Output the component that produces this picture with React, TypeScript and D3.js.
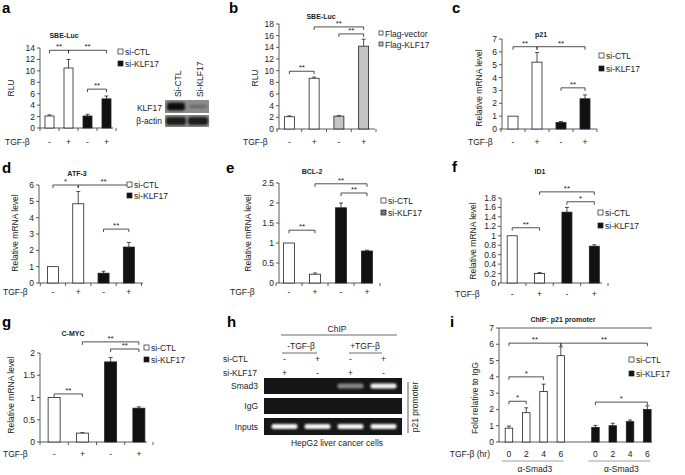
import React from "react";
import * as d3 from "d3";

const FONT = "'Liberation Sans', Arial, Helvetica, sans-serif";
const AX = "#333";

// ---------- shared categories ----------
const conditions = ["CTL-", "CTL+", "KLF-", "KLF+"];
const conditionSeries = [0, 0, 1, 1];
const tgfSigns = ["-", "+", "-", "+"];
const knockdownLegend = ["si-CTL", "si-KLF17"];
const flagLegend = ["Flag-vector", "Flag-KLF17"];

// ---------- a: SBE-Luc (knockdown) ----------
const aValues = [2.1, 10.5, 2.1, 5.1];
const aErrors = [0.2, 1.5, 0.3, 0.5];
const aTicks = [0, 2, 4, 6, 8, 10, 12, 14];
const aBrackets: [number, number, number, string][] = [[0, 1, 13.6, "**"], [1, 3, 13.6, "**"], [2, 3, 6.8, "**"]];
const blotLanes = ["Si-CTL", "Si-KLF17"];
const klf17Band = [1, 0.3];
const actinBand = [1, 1];

// ---------- b: SBE-Luc (overexpression) ----------
const bValues = [2.1, 8.7, 2.2, 14.2];
const bErrors = [0.15, 0.2, 0.1, 1.2];
const bTicks = [0, 2, 4, 6, 8, 10, 12, 14, 16, 18];
const bBrackets: [number, number, number, string][] = [[0, 1, 9.9, "**"], [1, 3, 17.5, "**"], [2, 3, 16.3, "**"]];

// ---------- c: p21 ----------
const cValues = [1.0, 5.2, 0.5, 2.35];
const cErrors = [0, 0.75, 0.08, 0.3];
const cTicks = [0, 1, 2, 3, 4, 5, 6, 7];
const cBrackets: [number, number, number, string][] = [[0, 1, 6.4, "**"], [1, 3, 6.4, "**"], [2, 3, 3.2, "**"]];

// ---------- d: ATF-3 ----------
const dValues = [1.0, 4.85, 0.6, 2.2];
const dErrors = [0, 0.75, 0.12, 0.28];
const dTicks = [0, 1, 2, 3, 4, 5, 6];
const dBrackets: [number, number, number, string][] = [[0, 1, 6.0, "*"], [1, 3, 6.0, "**"], [2, 3, 3.3, "**"]];

// ---------- e: BCL-2 ----------
const eValues = [1.0, 0.22, 1.88, 0.8];
const eErrors = [0, 0.03, 0.12, 0.02];
const eTicks = [0, 0.5, 1, 1.5, 2, 2.5];
const eBrackets: [number, number, number, string][] = [[0, 1, 1.32, "**"], [1, 3, 2.48, "**"], [2, 3, 2.25, "**"]];

// ---------- f: ID1 ----------
const fValues = [1.0, 0.2, 1.5, 0.78];
const fErrors = [0, 0.02, 0.1, 0.03];
const fTicks = [0, 0.2, 0.4, 0.6, 0.8, 1, 1.2, 1.4, 1.6, 1.8];
const fBrackets: [number, number, number, string][] = [[0, 1, 1.17, "**"], [1, 3, 1.93, "**"], [2, 3, 1.72, "*"]];

// ---------- g: C-MYC ----------
const gValues = [1.0, 0.2, 1.8, 0.76];
const gErrors = [0, 0.01, 0.1, 0.03];
const gTicks = [0, 0.5, 1, 1.5, 2];
const gBrackets: [number, number, number, string][] = [[0, 1, 1.08, "**"], [1, 3, 2.25, "**"], [2, 3, 2.09, "**"]];

// ---------- h: ChIP gel ----------
const chipLanes = ["1", "2", "3", "4"];
const chipCtl = ["-", "+", "-", "+"];
const chipKlf = ["+", "-", "+", "-"];
const smad3Band = [0, 0, 0.5, 1];
const iggBand = [0, 0, 0, 0];
const inputBand = [1, 1, 1, 1];
const gelRows = ["Smad3", "IgG", "Inputs"];

// ---------- i: ChIP p21 promoter ----------
const iSlots = ["CTL 0", "CTL 2", "CTL 4", "CTL 6", "gap", "KLF 0", "KLF 2", "KLF 4", "KLF 6"];
const iBarKeys = ["CTL 0", "CTL 2", "CTL 4", "CTL 6", "KLF 0", "KLF 2", "KLF 4", "KLF 6"];
const iSeries = [0, 0, 0, 0, 1, 1, 1, 1];
const iHours = ["0", "2", "4", "6", "0", "2", "4", "6"];
const iValues = [0.85, 1.8, 3.1, 5.3, 0.9, 1.0, 1.25, 2.0];
const iErrors = [0.13, 0.3, 0.45, 0.55, 0.12, 0.15, 0.1, 0.22];
const iTicks = [0, 1, 2, 3, 4, 5, 6, 7];
const iBrackets: [number, number, number, string][] = [[0, 1, 2.5, "*"], [0, 2, 4.0, "*"], [0, 3, 6.07, "**"], [3, 7, 6.07, "**"], [4, 7, 2.45, "*"]];

const WHITE = "#ffffff";
const BLACK = "#111111";
const GRAY = "#c4c4c4";

function BarPanel({ p }: { p: any }) {
  const y = d3.scaleLinear().domain([0, p.yMax]).range([p.bottom, p.top]);
  const x = d3.scaleBand<string>().domain(p.keys).range(p.band).padding(0);
  const cx = (i: number) => (x(p.barKeys[i]) as number) + x.bandwidth() / 2;
  const bounds: number[] = p.keys.map((k: string) => x(k) as number).concat([p.band[1]]);
  const fmt = p.tickFmt || ((t: number) => String(t));
  const sq = p.legendSize || 5;
  return (
    <g fontFamily={FONT} fill="#222">
      <text x={p.letterX} y={p.letterY} fontSize={15} fontWeight="bold" fill="#000">{p.letter}</text>
      <text x={p.titleX} y={p.titleY} textAnchor="middle" fontSize={7} fontWeight="bold">{p.title}</text>
      {p.topLine && (
        <line x1={p.axisX} x2={p.xEnd} y1={y(p.yMax)} y2={y(p.yMax)} stroke={AX} strokeWidth={0.8} />
      )}
      <line x1={p.axisX} x2={p.axisX} y1={y(0)} y2={y(p.yMax)} stroke={AX} strokeWidth={0.8} />
      {p.ticks.map((t: number) => (
        <g key={"t" + t}>
          <line x1={p.axisX - 3} x2={p.axisX} y1={y(t)} y2={y(t)} stroke={AX} strokeWidth={0.8} />
          <text x={p.axisX - 5} y={y(t) + 3} textAnchor="end" fontSize={8.5}>{fmt(t)}</text>
        </g>
      ))}
      <line x1={p.axisX} x2={p.xEnd} y1={y(0)} y2={y(0)} stroke={AX} strokeWidth={0.8} />
      {p.catTicks && bounds.map((b, i) => (
        <line key={"c" + i} x1={b} x2={b} y1={y(0)} y2={y(0) + 3} stroke={AX} strokeWidth={0.8} />
      ))}
      {p.values.map((v: number, i: number) => (
        <rect key={"b" + i} x={cx(i) - p.barW / 2} y={y(v)} width={p.barW} height={y(0) - y(v)}
          fill={p.fills[p.series[i]]} stroke="#222" strokeWidth={0.8} />
      ))}
      {p.values.map((v: number, i: number) => p.errors[i] > 0 ? (
        <g key={"e" + i} stroke="#222" strokeWidth={0.8}>
          <line x1={cx(i)} x2={cx(i)} y1={y(v)} y2={y(v + p.errors[i])} />
          <line x1={cx(i) - 2} x2={cx(i) + 2} y1={y(v + p.errors[i])} y2={y(v + p.errors[i])} />
        </g>
      ) : null)}
      {p.brackets.map(([a, b, v, l]: [number, number, number, string], i: number) => {
        const yy = y(v);
        return (
          <g key={"k" + i}>
            <path d={`M${cx(a)},${yy + 3}V${yy}H${cx(b)}V${yy + 3}`} fill="none" stroke="#222" strokeWidth={0.8} />
            <text x={(cx(a) + cx(b)) / 2} y={yy - 1} textAnchor="middle" fontSize={8}>{l}</text>
          </g>
        );
      })}
      <text x={p.xTitleX} y={p.labelY} textAnchor={p.xTitleAnchor || "start"} fontSize={8.5}>{p.xTitle}</text>
      {p.xLabels.map((s: string, i: number) => (
        <text key={"x" + i} x={cx(i)} y={p.labelY} textAnchor="middle" fontSize={8.5}>{s}</text>
      ))}
      <text transform={`translate(${p.yLabelX},${p.yLabelY}) rotate(-90)`} textAnchor="middle" fontSize={8.5}>{p.yLabel}</text>
      {p.legend.map((l: string, i: number) => (
        <g key={"l" + i}>
          <rect x={p.legendX} y={p.legendY + i * p.legendDy} width={sq} height={sq}
            fill={p.legendFills[i]} stroke="#222" strokeWidth={0.7} />
          <text x={p.legendX + sq + 2} y={p.legendY + i * p.legendDy + 6} fontSize={8.5}>{l}</text>
        </g>
      ))}
      {p.extra ? p.extra(cx, y) : null}
    </g>
  );
}

const base = {
  keys: conditions,
  barKeys: conditions,
  series: conditionSeries,
  xLabels: tgfSigns,
  xTitle: "TGF-β",
  catTicks: true,
  legend: knockdownLegend,
  fills: [WHITE, BLACK],
  legendFills: [WHITE, BLACK],
  yLabel: "Relative mRNA level",
};

const panelA = {
  ...base, letter: "a", letterX: 2, letterY: 13, title: "SBE-Luc", titleX: 64, titleY: 38,
  axisX: 40, band: [40, 116], xEnd: 113, top: 48, bottom: 128, yMax: 14, ticks: aTicks,
  values: aValues, errors: aErrors, barW: 9, brackets: aBrackets,
  legendX: 118, legendY: 49, legendDy: 12, yLabel: "RLU", yLabelX: 14, yLabelY: 88,
  labelY: 145, xTitleX: 5,
};
const panelB = {
  ...base, letter: "b", letterX: 229, letterY: 13, title: "SBE-Luc", titleX: 321, titleY: 19,
  axisX: 279, band: [277, 376], xEnd: 375, top: 24, bottom: 129, yMax: 18, ticks: bTicks,
  values: bValues, errors: bErrors, barW: 10, brackets: bBrackets,
  legend: flagLegend, fills: [WHITE, GRAY], legendFills: [WHITE, GRAY], legendSize: 4,
  legendX: 379, legendY: 31, legendDy: 11, yLabel: "RLU", yLabelX: 258, yLabelY: 78,
  labelY: 145, xTitleX: 243,
};
const panelC = {
  ...base, letter: "c", letterX: 452, letterY: 13, title: "p21", titleX: 541, titleY: 37,
  axisX: 502, band: [501, 597], xEnd: 597, top: 39, bottom: 129, yMax: 7, ticks: cTicks,
  values: cValues, errors: cErrors, barW: 10, brackets: cBrackets,
  legendX: 599, legendY: 53, legendDy: 13, yLabelX: 482, yLabelY: 88,
  labelY: 145, xTitleX: 468,
};
const panelD = {
  ...base, letter: "d", letterX: 2, letterY: 173, title: "ATF-3", titleX: 77, titleY: 176,
  axisX: 39, band: [40.3, 141.5], xEnd: 143, top: 185, bottom: 283, yMax: 6, ticks: dTicks,
  values: dValues, errors: dErrors, barW: 11, brackets: dBrackets,
  legendX: 127, legendY: 182, legendDy: 11, yLabelX: 18, yLabelY: 233,
  labelY: 295, xTitleX: 3,
};
const panelE = {
  ...base, letter: "e", letterX: 226, letterY: 173, title: "BCL-2", titleX: 312, titleY: 174,
  axisX: 279, band: [276, 380], xEnd: 373, top: 183, bottom: 283, yMax: 2.5, ticks: eTicks,
  values: eValues, errors: eErrors, barW: 11, brackets: eBrackets, legendFills: [WHITE, "#777"],
  legendX: 381, legendY: 198, legendDy: 12, yLabelX: 251, yLabelY: 233,
  labelY: 295, xTitleX: 230,
};
const panelF = {
  ...base, letter: "f", letterX: 452, letterY: 172, title: "ID1", titleX: 540, titleY: 174,
  axisX: 501, band: [498.5, 608], xEnd: 602, top: 198, bottom: 283, yMax: 1.8, ticks: fTicks,
  values: fValues, errors: fErrors, barW: 10, brackets: fBrackets,
  legendX: 598, legendY: 210, legendDy: 13, yLabelX: 476, yLabelY: 241,
  labelY: 297, xTitleX: 455,
};
const panelG = {
  ...base, letter: "g", letterX: 2, letterY: 327, title: "C-MYC", titleX: 73, titleY: 336,
  axisX: 40, band: [40, 153], xEnd: 147, top: 353, bottom: 442, yMax: 2, ticks: gTicks,
  values: gValues, errors: gErrors, barW: 12, brackets: gBrackets,
  legendX: 144, legendY: 345, legendDy: 12, yLabelX: 14, yLabelY: 395,
  labelY: 457, xTitleX: 3,
};
const panelI = {
  ...base, keys: iSlots, barKeys: iBarKeys, series: iSeries, xLabels: iHours, catTicks: false,
  letter: "i", letterX: 450, letterY: 327, title: "ChIP: p21 promoter", titleX: 563, titleY: 322,
  axisX: 499, band: [500.3, 656], xEnd: 652, top: 328, bottom: 442, yMax: 7, ticks: iTicks, topLine: true,
  values: iValues, errors: iErrors, barW: 7.5, brackets: iBrackets,
  legendX: 629, legendY: 357, legendDy: 14, yLabel: "Fold relative to IgG", yLabelX: 478, yLabelY: 398,
  labelY: 457, xTitle: "TGF-β (hr)", xTitleX: 490, xTitleAnchor: "end",
  extra: (cx: (i: number) => number, y: any) => (
    <g>
      {[[0, 3], [4, 7]].map(([a, b], k) => (
        <g key={"grp" + k}>
          <line x1={cx(a) - 7} x2={cx(b) + 3} y1={461} y2={461} stroke="#888" strokeWidth={0.8} />
          <text x={(cx(a) + cx(b)) / 2} y={472} textAnchor="middle" fontSize={8.5}>α-Smad3</text>
        </g>
      ))}
    </g>
  ),
};

function WesternBlot() {
  const x = d3.scaleBand<string>().domain(blotLanes).range([165, 209]);
  const c = (i: number) => (x(blotLanes[i]) as number) + x.bandwidth() / 2;
  return (
    <g fontFamily={FONT} fill="#222">
      {blotLanes.map((l, i) => (
        <text key={l} transform={`translate(${c(i) + 5},97) rotate(-90)`} fontSize={8.5}>{l}</text>
      ))}
      <rect x={165} y={100} width={44} height={13} fill="#8c8c8c" />
      <rect x={165} y={115} width={44} height={12} fill="#8c8c8c" />
      {klf17Band.map((v, i) => (
        <rect key={"k" + i} x={c(i) - 9} y={106.5 - 4 * Math.max(v, 0.35)} width={18} height={8 * Math.max(v, 0.35)} rx={3}
          fill="#111" opacity={v} filter="url(#blurDark)" />
      ))}
      {actinBand.map((v, i) => (
        <rect key={"a" + i} x={c(i) - 10} y={117} width={20} height={8} rx={3} fill="#1a1a1a" opacity={v} filter="url(#blurDark)" />
      ))}
      <text x={162} y={111} textAnchor="end" fontSize={8.5}>KLF17</text>
      <text x={162} y={124} textAnchor="end" fontSize={8.5}>β-actin</text>
    </g>
  );
}

function ChipGel() {
  const x = d3.scaleBand<string>().domain(chipLanes).range([268, 400]);
  const c = (i: number) => (x(chipLanes[i]) as number) + x.bandwidth() / 2;
  const rowsY = [378, 398, 418];
  const rowsH = [16, 16, 17];
  const bands = [smad3Band, iggBand, inputBand];
  return (
    <g fontFamily={FONT} fill="#222">
      <text x={227} y={327} fontSize={15} fontWeight="bold" fill="#000">h</text>
      <text x={337} y={332} textAnchor="middle" fontSize={8.5}>ChIP</text>
      <line x1={281} x2={397} y1={335} y2={335} stroke="#444" strokeWidth={0.8} />
      <text x={301} y={349} textAnchor="middle" fontSize={8.5}>-TGF-β</text>
      <line x1={282} x2={317} y1={353} y2={353} stroke="#444" strokeWidth={0.8} />
      <text x={365} y={349} textAnchor="middle" fontSize={8.5}>+TGF-β</text>
      <line x1={349} x2={382} y1={353} y2={353} stroke="#444" strokeWidth={0.8} />
      <text x={223} y={362} fontSize={8.5}>si-CTL</text>
      <text x={223} y={376} fontSize={8.5}>si-KLF17</text>
      {chipCtl.map((s, i) => <text key={"c" + i} x={c(i)} y={362} textAnchor="middle" fontSize={8.5}>{s}</text>)}
      {chipKlf.map((s, i) => <text key={"k" + i} x={c(i)} y={376} textAnchor="middle" fontSize={8.5}>{s}</text>)}
      {gelRows.map((r, j) => (
        <g key={r}>
          <rect x={264} y={rowsY[j]} width={138} height={rowsH[j]} fill="#161616" />
          {bands[j].map((v, i) => v > 0 ? (
            <rect key={i} x={c(i) - 13} y={rowsY[j] + rowsH[j] / 2 - 2.5} width={26} height={5} rx={2}
              fill="#f4f4f4" opacity={v} filter="url(#blurLight)" />
          ) : null)}
          <text x={258} y={rowsY[j] + rowsH[j] / 2 + 3} textAnchor="end" fontSize={8.5}>{r}</text>
        </g>
      ))}
      <line x1={408} x2={408} y1={382} y2={433} stroke="#333" strokeWidth={0.8} />
      <text transform="translate(418,407) rotate(-90)" textAnchor="middle" fontSize={8.5}>p21 promoter</text>
      <text x={337} y={446} textAnchor="middle" fontSize={8.5}>HepG2 liver cancer cells</text>
    </g>
  );
}

export default function App() {
  return (
    <svg width={685} height={475} style={{ position: "absolute", left: 0, top: 0, background: "#fff" }}>
      <defs>
        <filter id="blurDark" x="-30%" y="-60%" width="160%" height="220%">
          <feGaussianBlur stdDeviation="1.2" />
        </filter>
        <filter id="blurLight" x="-30%" y="-80%" width="160%" height="260%">
          <feGaussianBlur stdDeviation="0.9" />
        </filter>
      </defs>
      <rect width={685} height={475} fill="#fff" />
      <BarPanel p={panelA} />
      <WesternBlot />
      <BarPanel p={panelB} />
      <BarPanel p={panelC} />
      <BarPanel p={panelD} />
      <BarPanel p={panelE} />
      <BarPanel p={panelF} />
      <BarPanel p={panelG} />
      <ChipGel />
      <BarPanel p={panelI} />
    </svg>
  );
}
